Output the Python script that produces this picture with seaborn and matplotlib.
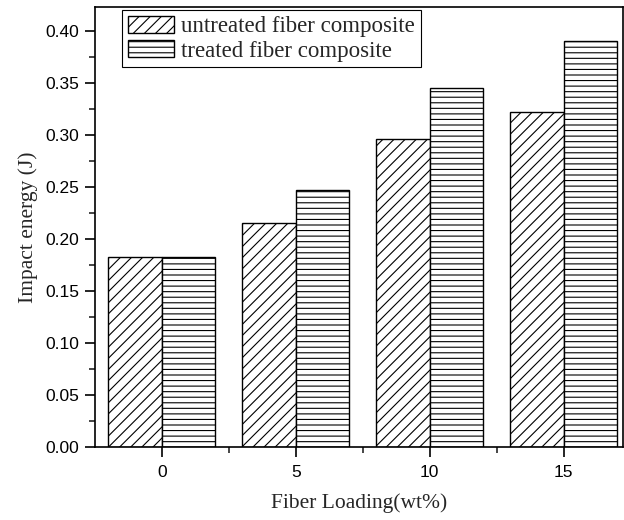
import pandas as pd
import matplotlib.pyplot as plt
import matplotlib.ticker as mticker
import seaborn as sns

# Data
loading = [0, 5, 10, 15]
untreated = [0.183, 0.215, 0.296, 0.322]
treated = [0.183, 0.247, 0.345, 0.390]
series = ['untreated fiber composite', 'treated fiber composite']

df = pd.DataFrame({
    'loading': loading * 2,
    'energy': untreated + treated,
    'series': [series[0]] * 4 + [series[1]] * 4,
})

sns.set_style('ticks')
plt.rcParams['font.family'] = ['Liberation Sans', 'DejaVu Sans']
plt.rcParams['hatch.linewidth'] = 0.8

fig = plt.figure(figsize=(6.24, 5.2), dpi=100)
ax = fig.add_axes([0.152, 0.140, 0.846, 0.8465])

sns.barplot(data=df, x='loading', y='energy', hue='series', native_scale=True,
            palette=['white', 'white'], edgecolor='black', linewidth=1.0,
            width=0.8, ax=ax, legend=False)

hatches = ['///', '---']
for cont, h in zip(ax.containers, hatches):
    for p in cont:
        p.set_hatch(h)

ax.set_xlim(-2.5, 17.2)
ax.set_ylim(0, 0.423)
ax.set_xticks(loading)
ax.xaxis.set_minor_locator(mticker.FixedLocator([2.5, 7.5, 12.5]))
ax.yaxis.set_major_locator(mticker.MultipleLocator(0.05))
ax.yaxis.set_minor_locator(mticker.MultipleLocator(0.025))
ax.yaxis.set_major_formatter(mticker.FormatStrFormatter('%.2f'))
ax.tick_params(which='major', direction='out', length=7, width=1.2, pad=5.5,
               labelsize=12.5, colors='black')
ax.tick_params(axis='y', which='major', pad=4.5)
ax.tick_params(which='minor', direction='out', length=4, width=1.2)
for s in ax.spines.values():
    s.set_linewidth(1.2)
    s.set_color('black')

ax.set_xlabel('Fiber Loading(wt%)', fontfamily='Liberation Serif', fontsize=15.5, labelpad=10)
ax.set_ylabel('Impact energy (J)', fontfamily='Liberation Serif', fontsize=15.5, labelpad=5)

leg = ax.legend(handles=[ax.containers[0][0], ax.containers[1][0]], labels=series,
                loc='upper left', bbox_to_anchor=(0.051, 0.993), borderaxespad=0,
                fancybox=False, edgecolor='black', framealpha=1,
                handlelength=2.05, handleheight=0.78, handletextpad=0.3,
                borderpad=0.25, labelspacing=0.12,
                prop={'family': 'Liberation Serif', 'size': 16.5})
leg.get_frame().set_linewidth(0.8)

fig.savefig('out.png', dpi=100)
plt.close()
